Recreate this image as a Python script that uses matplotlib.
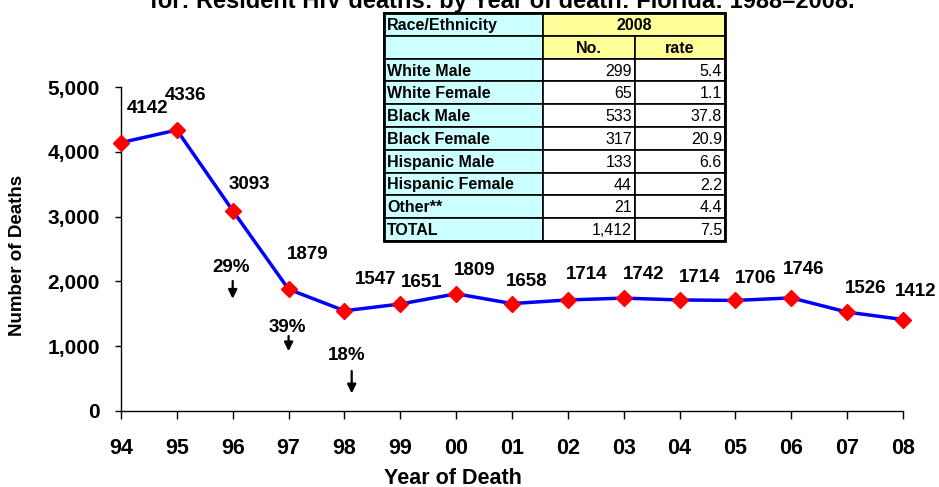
import matplotlib
matplotlib.use("Agg")
import matplotlib.pyplot as plt
from matplotlib.patches import Rectangle

plt.rcParams['font.family'] = ['Liberation Sans', 'DejaVu Sans']

# data
years = ["94", "95", "96", "97", "98", "99", "00", "01", "02", "03", "04", "05", "06", "07", "08"]
deaths = [4142, 4336, 3093, 1879, 1547, 1651, 1809, 1658, 1714, 1742, 1714, 1706, 1746, 1526, 1412]

# percent drops (year index, label)
drop_idx = [2, 3, 4]
drop_labels = ["29%", "39%", "18%"]

# table data
tbl_groups = ["White Male", "White Female", "Black Male", "Black Female",
              "Hispanic Male", "Hispanic Female", "Other**", "TOTAL"]
tbl_no = ["299", "65", "533", "317", "133", "44", "21", "1,412"]
tbl_rate = ["5.4", "1.1", "37.8", "20.9", "6.6", "2.2", "4.4", "7.5"]

W, H = 939, 487
fig = plt.figure(figsize=(W / 100, H / 100), dpi=100)
ax = fig.add_axes([121 / W, 1 - 411 / H, (903 - 121) / W, (411 - 87) / H])

x = list(range(len(years)))
ax.plot(x, deaths, color="#0000FF", lw=2.5, marker="D", markersize=8.5,
        markerfacecolor="#FF0000", markeredgecolor="#FF0000", zorder=3, clip_on=False)

# label offsets in pixels (dx, dy up)
offs = [(27, 34), (9, 35), (17, 26), (19, 35), (31, 31), (21, 22), (19, 23), (15, 22),
        (19, 25), (20, 24), (20, 22), (20, 22), (12, 28), (18, 24), (13, 28)]
for i, v in enumerate(deaths):
    dx, dy = offs[i]
    ax.annotate(str(v), (x[i], v), xytext=(dx * 0.72, dy * 0.72), textcoords="offset points",
                ha="center", va="center", fontsize=13.5, fontweight="bold", zorder=5)

# drop arrows
drop_text_y = [2207, 1296, 849]
drop_arrow = [(2050, 1690), (1200, 880), (660, 230)]
drop_dx = [0.0, 0.0, 0.13]
for k, i in enumerate(drop_idx):
    ax.text(i - 0.02 + drop_dx[k] * 0.5, drop_text_y[k], drop_labels[k], ha="center", va="center",
            fontsize=13.5, fontweight="bold", zorder=4)
    y0, y1 = drop_arrow[k]
    ax.annotate("", xy=(i + drop_dx[k], y1), xytext=(i + drop_dx[k], y0),
                arrowprops=dict(arrowstyle="-|>", color="black", lw=1.6, mutation_scale=13))

ax.set_xlim(0, 14)
ax.set_ylim(0, 5000)
ax.set_xticks(x)
ax.set_xticklabels(years, fontsize=15.5, fontweight="bold")
ax.set_yticks([0, 1000, 2000, 3000, 4000, 5000])
ax.set_yticklabels(["0", "1,000", "2,000", "3,000", "4,000", "5,000"], fontsize=15, fontweight="bold")
ax.tick_params(axis="y", direction="out", length=4.3, width=1, color="black", pad=11)
ax.tick_params(axis="x", direction="out", length=5.5, width=1, color="black", pad=14)
ax.spines["top"].set_visible(False)
ax.spines["right"].set_visible(False)
for s in ["left", "bottom"]:
    ax.spines[s].set_linewidth(1)
ax.set_xlabel("Year of Death", fontsize=15.5, fontweight="bold", va="center")
ax.xaxis.set_label_coords((453 - 121) / 782, (411 - 478) / 324)
ax.set_ylabel("Number of Deaths", fontsize=13.5, fontweight="bold", va="center")
ax.yaxis.set_label_coords((18 - 121) / 782, (411 - 255) / 324)
ax.patch.set_alpha(0)

# title, clipped at top edge
fig.text(855 / W, 1 - 8 / H, "for: Resident HIV deaths: by Year of death: Florida: 1988\u20132008.",
         ha="right", va="baseline", fontsize=17, fontweight="bold")

# table
tx0, ty0 = 384, 13
cw = [159, 92, 90]
rh = 22.8
tax = fig.add_axes([0, 0, 1, 1])
tax.set_xlim(0, W)
tax.set_ylim(H, 0)
tax.axis("off")
cyan = "#CCFFFF"
yellow = "#FFFF99"


def cell(xp, yp, w, h, fc, txt="", ha="center", bold=True):
    tax.add_patch(Rectangle((xp, yp), w, h, facecolor=fc, edgecolor="black", lw=1.2))
    if txt:
        if ha == "left":
            tx = xp + 3
        elif ha == "right":
            tx = xp + w - 3
        else:
            tx = xp + w / 2
        tax.text(tx, yp + h / 2 + 1, txt, ha=ha, va="center", fontsize=11.5,
                 fontweight="bold" if bold else "normal")


cell(tx0, ty0, cw[0], rh, cyan, "Race/Ethnicity", "left")
cell(tx0 + cw[0], ty0, cw[1] + cw[2], rh, yellow, "2008")
cell(tx0, ty0 + rh, cw[0], rh, cyan)
cell(tx0 + cw[0], ty0 + rh, cw[1], rh, yellow, "No.")
cell(tx0 + cw[0] + cw[1], ty0 + rh, cw[2], rh, yellow, "rate")
for r in range(len(tbl_groups)):
    yp = ty0 + rh * (r + 2)
    cell(tx0, yp, cw[0], rh, cyan, tbl_groups[r], "left")
    cell(tx0 + cw[0], yp, cw[1], rh, "white", tbl_no[r], "right", bold=False)
    cell(tx0 + cw[0] + cw[1], yp, cw[2], rh, "white", tbl_rate[r], "right", bold=False)
tax.add_patch(Rectangle((tx0, ty0), sum(cw), rh * 10, fill=False, edgecolor="black", lw=2))

fig.savefig("out.png", dpi=100)
